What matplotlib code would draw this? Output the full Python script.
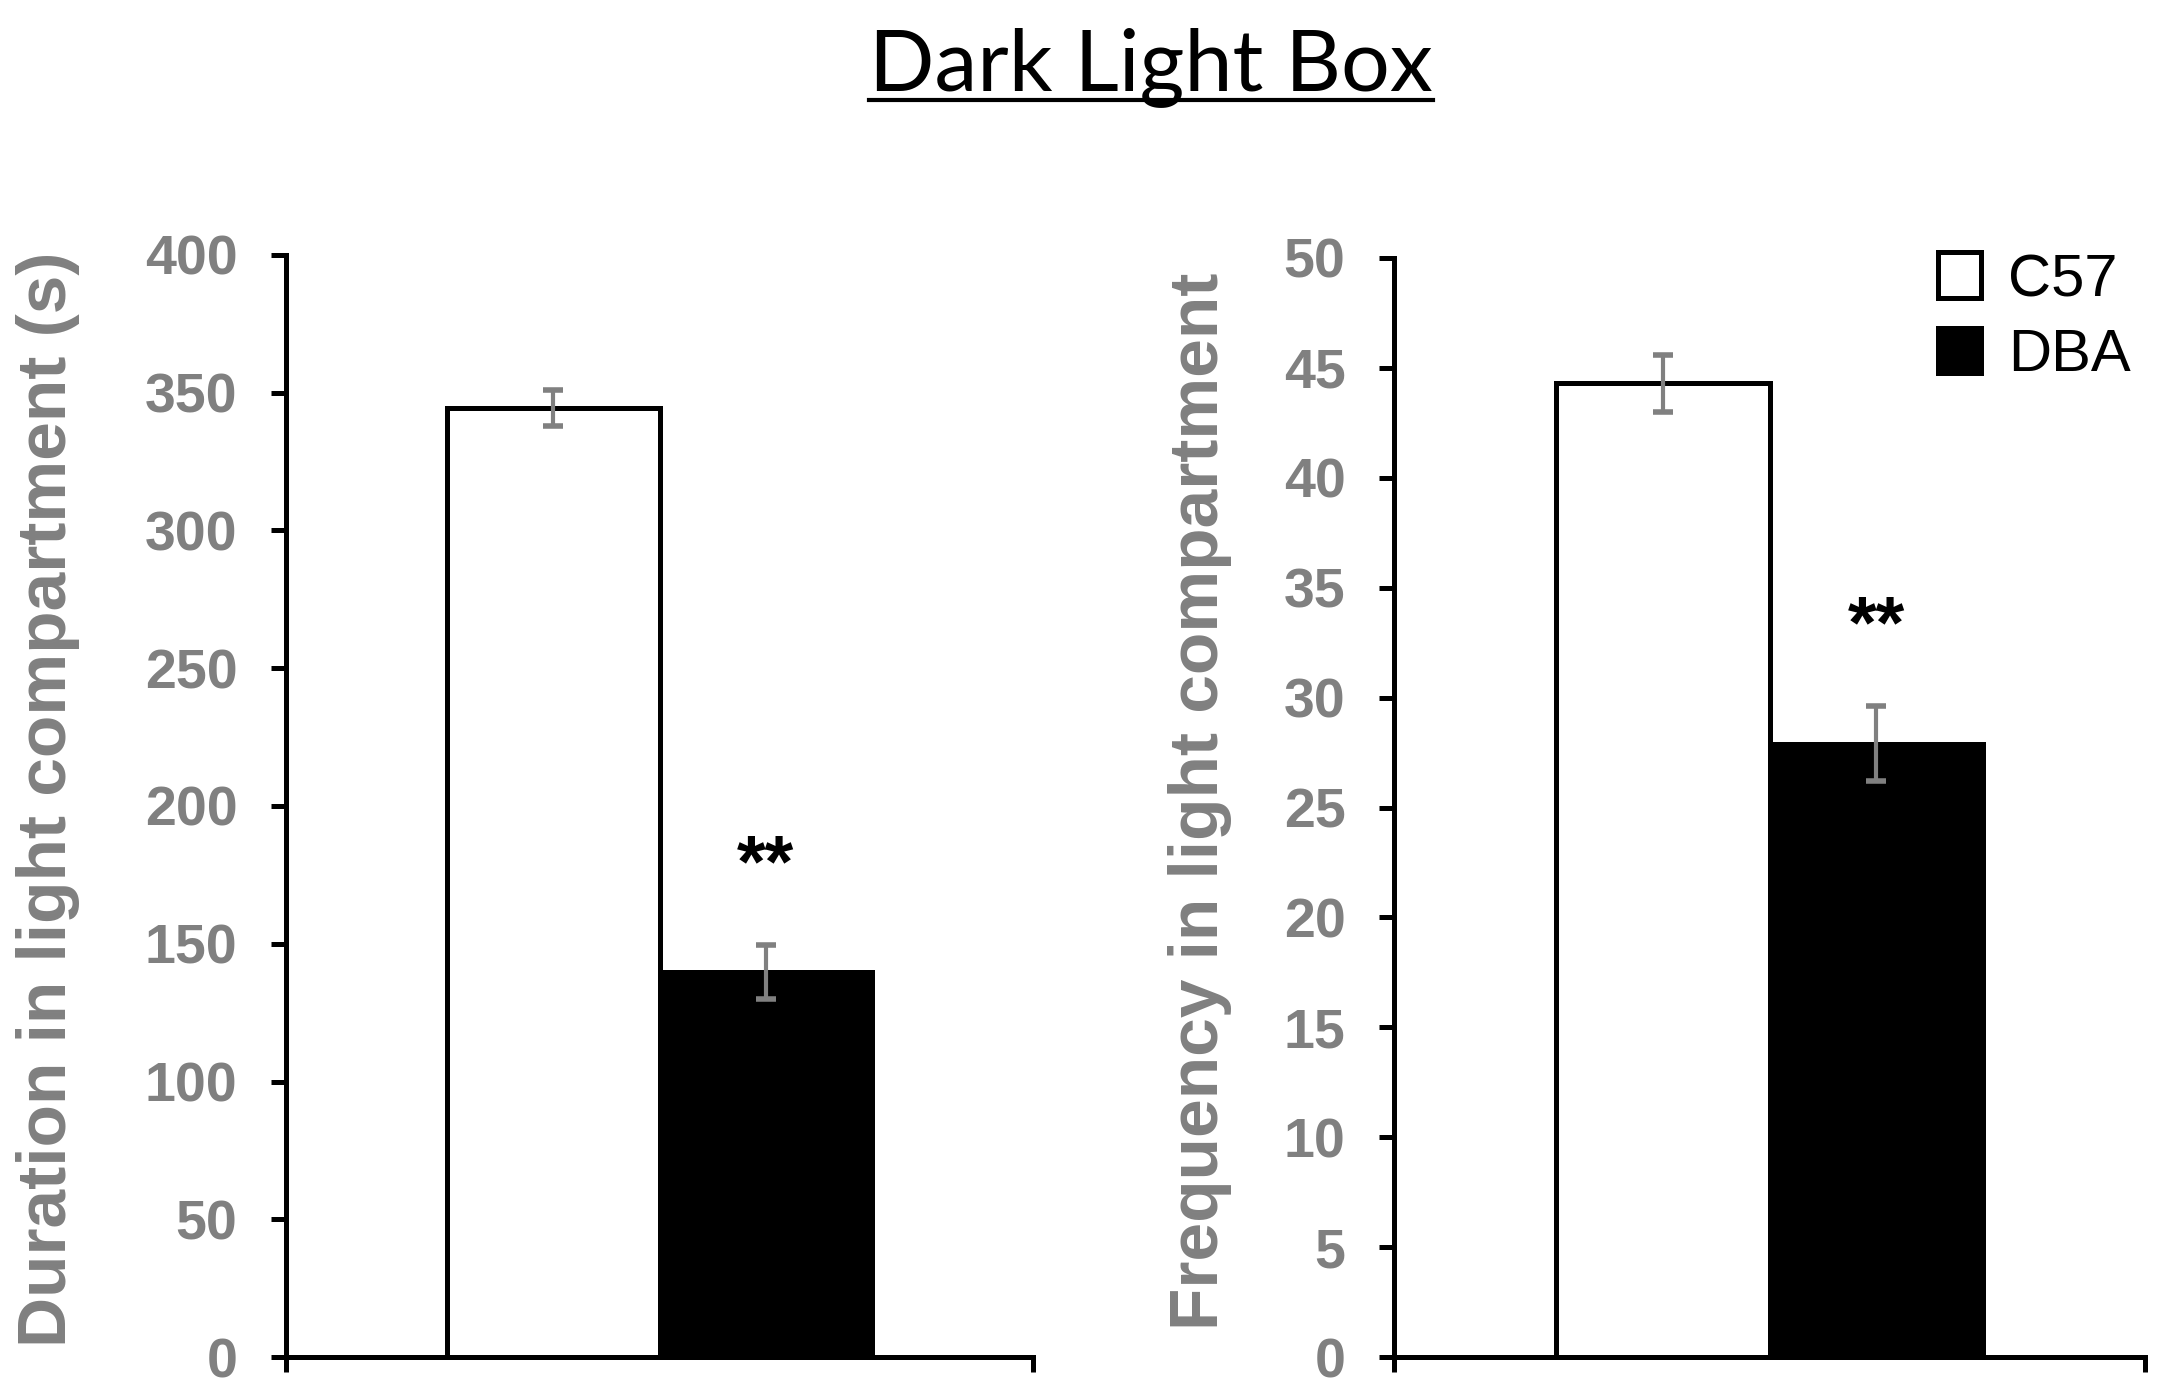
import matplotlib
matplotlib.use("Agg")
import matplotlib.pyplot as plt
from matplotlib.patches import Patch
from matplotlib.lines import Line2D

groups = ["C57", "DBA"]
duration_mean = [344.5, 139.8]
duration_sem = [6.5, 9.8]
freq_mean = [44.3, 27.9]
freq_sem = [1.3, 1.7]
duration_ticks = [0, 50, 100, 150, 200, 250, 300, 350, 400]
freq_ticks = [0, 5, 10, 15, 20, 25, 30, 35, 40, 45, 50]
star_duration = 186
star_freq = 34.2

GRAY = "#808080"
LW = 3.6
plt.rcParams["font.family"] = ["Liberation Sans", "DejaVu Sans"]

fig = plt.figure(figsize=(21.64, 13.87), dpi=100)
ax1 = fig.add_axes([0.1322, 0.0216, 0.3452, 0.7946])
ax2 = fig.add_axes([0.6442, 0.0216, 0.3470, 0.7924])

xpos = [0, 1]
colors = ["white", "black"]


def draw_panel(ax, means, sems, ticks, label, star_y, label_x):
    ax.bar(xpos, means, width=1.0, color=colors, edgecolor="black",
           linewidth=LW, zorder=2)
    ax.errorbar(xpos, means, yerr=sems, fmt="none", ecolor=GRAY,
                elinewidth=3, capsize=7.2, capthick=4, zorder=3)
    ax.set_ylim(ticks[0], ticks[-1])
    ax.set_xlim(-1.26, 2.26)
    ax.set_yticks(ticks)
    ax.set_yticklabels([str(t) for t in ticks], fontsize=40,
                       fontweight="bold", color=GRAY)
    ax.set_xticks([-1.26, 2.26])
    ax.set_xticklabels(["", ""])
    ax.tick_params(axis="both", direction="out", length=11, width=LW,
                   color="black")
    ax.tick_params(axis="y", pad=24)
    for s in ["top", "right"]:
        ax.spines[s].set_visible(False)
    for s in ["left", "bottom"]:
        ax.spines[s].set_linewidth(LW)
    ax.spines["bottom"].set_capstyle("projecting")
    ax.set_ylabel(label, fontsize=50, fontweight="bold", color=GRAY,
                  va="center")
    ax.yaxis.set_label_coords(label_x, 0.506)
    ax.annotate("**", xy=(xpos[1], star_y), xytext=(0, -0.57 * 53),
                textcoords="offset points", ha="center", va="baseline",
                fontsize=53, fontweight="bold", color="black")


draw_panel(ax1, duration_mean, duration_sem, duration_ticks,
           "Duration in light compartment (s)", star_duration, -0.319)
draw_panel(ax2, freq_mean, freq_sem, freq_ticks,
           "Frequency in light compartment", star_freq, -0.258)

handles = [Patch(facecolor=c, edgecolor="black", linewidth=LW,
                 joinstyle="round") for c in colors]
fig.legend(handles, groups, loc="upper left", bbox_to_anchor=(0.8955, 0.818),
           frameon=False, fontsize=43, handlelength=0.72, handleheight=0.8,
           handletextpad=0.45, labelspacing=0.33, borderpad=0,
           borderaxespad=0)

title = fig.text(0.532, 0.952, "Dark Light Box", ha="center", va="center",
                 fontsize=62, family=["Lato", "DejaVu Sans"])

# underline the title
fig.canvas.draw()
bb = title.get_window_extent().transformed(fig.transFigure.inverted())
uy = 1 - 100 / 1387
fig.add_artist(Line2D([bb.x0, bb.x1], [uy, uy], color="black", linewidth=3,
                      transform=fig.transFigure))

fig.savefig("out.png", dpi=100)
